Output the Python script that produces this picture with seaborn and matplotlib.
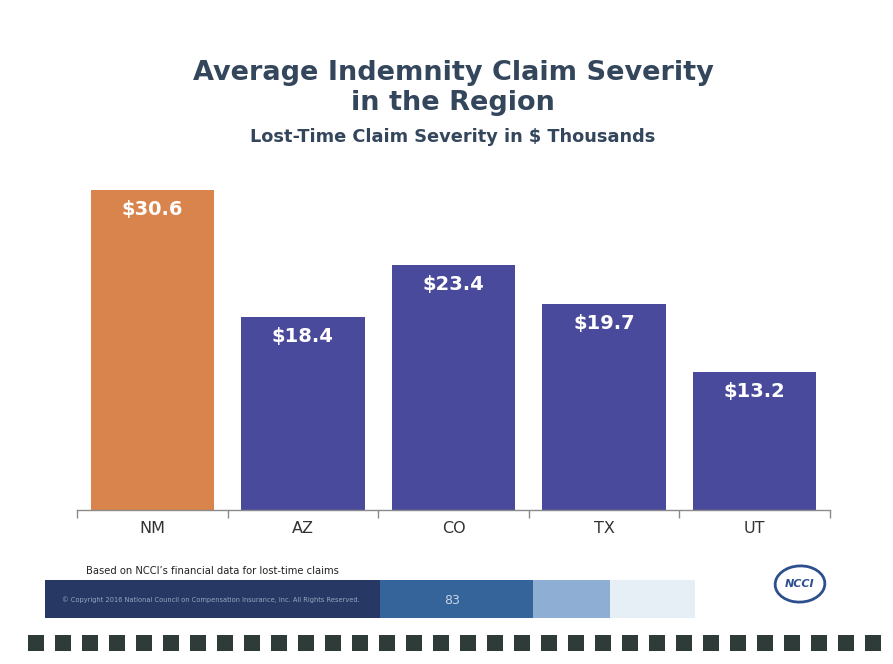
import matplotlib
matplotlib.use("Agg")
import matplotlib.pyplot as plt
import seaborn as sns
import pandas as pd
from matplotlib.patches import Rectangle, Ellipse

# ---- data ----
states = ["NM", "AZ", "CO", "TX", "UT"]
severity = [30.6, 18.4, 23.4, 19.7, 13.2]
bar_colors = ["#D9844C", "#4A4A9C", "#4A4A9C", "#4A4A9C", "#4A4A9C"]
title_lines = ["Average Indemnity Claim Severity", "in the Region"]
subtitle = "Lost-Time Claim Severity in $ Thousands"
footnote = "Based on NCCI\u2019s financial data for lost-time claims"
copyright_text = "\u00a9 Copyright 2016 National Council on Compensation Insurance, Inc. All Rights Reserved."
page_number = "83"

sns.set_theme(style="white")
plt.rcParams["font.family"] = ["DejaVu Sans"]

W, H = 893, 664
fig = plt.figure(figsize=(W / 100, H / 100), dpi=100)
fig.patch.set_facecolor("white")

def fx(px):
    return px / W

def fy(py):
    return 1 - py / H

# main axes: x from 77px to 830px, baseline at 510px, ylim top 32 -> ~175px
ax = fig.add_axes([fx(77), fy(510), fx(830) - fx(77), fy(175) - fy(510)])
df = pd.DataFrame({"state": states, "severity": severity})
sns.barplot(data=df, x="state", y="severity", hue="state", palette=bar_colors,
            legend=False, width=0.82, ax=ax, saturation=1, edgecolor="none")
ax.set_xlim(-0.5, len(states) - 0.5)
ax.set_ylim(0, 32)
ax.set_xlabel("")
ax.set_ylabel("")
ax.set_yticks([])
for s in ["top", "right", "left"]:
    ax.spines[s].set_visible(False)
ax.spines["bottom"].set_color("#8a8a8a")
ax.spines["bottom"].set_linewidth(1.0)
# tick marks at category boundaries
ax.set_xticks([i - 0.5 for i in range(len(states) + 1)], minor=True)
ax.tick_params(axis="x", which="minor", length=6, width=1.0, color="#8a8a8a",
               bottom=True, direction="out")
ax.tick_params(axis="x", which="major", length=0, labelsize=11.5,
               labelcolor="#333333", pad=8)
ax.set_facecolor("white")

for i, v in enumerate(severity):
    ax.annotate(f"${v:.1f}", (i, v), xytext=(0, -14), textcoords="offset points",
                ha="center", va="center", color="white", fontsize=14,
                fontweight="bold")

# titles
cx = fx(453)
fig.text(cx, fy(73), title_lines[0], ha="center", va="center",
         fontsize=19.5, fontweight="bold", color="#34465C")
fig.text(cx, fy(103), title_lines[1], ha="center", va="center",
         fontsize=19.5, fontweight="bold", color="#34465C")
fig.text(cx, fy(137), subtitle, ha="center", va="center",
         fontsize=12.8, fontweight="bold", color="#34465C")

# footer
fig.text(fx(86), fy(571), footnote, ha="left", va="center", fontsize=7.2,
         color="#222222")
bands = [(45, 380, "#263863"), (380, 533, "#35649A"), (533, 610, "#8FAED3"),
         (610, 695, "#E6EEF6")]
for x0, x1, c in bands:
    fig.patches.append(Rectangle((fx(x0), fy(618)), fx(x1) - fx(x0),
                                 fy(580) - fy(618), transform=fig.transFigure,
                                 facecolor=c, edgecolor="none"))
fig.text(fx(62), fy(600), copyright_text, ha="left", va="center",
         fontsize=4.8, color="#9aa6c0")
fig.text(fx(452), fy(600), page_number, ha="center", va="center",
         fontsize=9, color="#c8d4e6")

# NCCI logo (simple ellipse + text)
fig.patches.append(Ellipse((fx(800), fy(584)), fx(50) - fx(0), fy(0) - fy(36),
                           angle=25, transform=fig.transFigure, fill=False,
                           edgecolor="#2E4F8E", linewidth=2))
fig.text(fx(800), fy(584), "NCCI", ha="center", va="center", fontsize=8,
         fontweight="bold", fontstyle="italic", color="#2E4F8E")

# bottom row of squares
x = 28
while x + 16 <= W:
    fig.patches.append(Rectangle((fx(x), fy(651)), fx(16), fy(635) - fy(651),
                                 transform=fig.transFigure,
                                 facecolor="#2E3B38", edgecolor="none"))
    x += 27

fig.savefig("out.png", dpi=100, facecolor="white")
